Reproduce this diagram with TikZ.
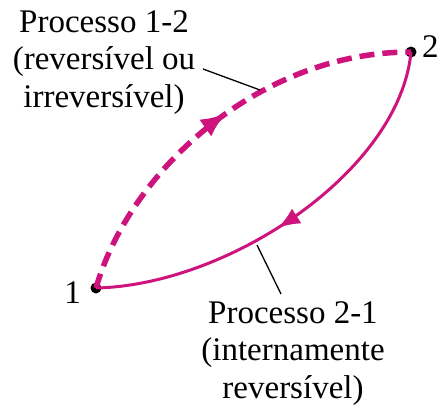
\documentclass[tikz,border=0pt]{standalone}
\usepackage{fontspec}
\setmainfont{Liberation Serif}
\usetikzlibrary{decorations.markings,arrows.meta}
\definecolor{proc}{RGB}{206,20,124}
\tikzset{
  lbl/.style={font=\fontsize{33}{37.5}\selectfont, align=center, inner sep=0pt},
  pt/.style={circle, fill=black, inner sep=0pt, minimum size=11pt},
  leader/.style={draw=black, line width=1.3pt},
  midarrow/.style 2 args={postaction={decorate, decoration={markings, mark=at position #1 with {\arrow[solid]{Latex[length=#2pt,width=0.8*#2pt]}}}}},
}
\begin{document}
\begin{tikzpicture}[x=1pt,y=-1pt]
\useasboundingbox (0,0) rectangle (439,410);
\node[pt] (p1) at (96,288) {};
\node[pt] (p2) at (411,52) {};
\node[lbl, anchor=base east] (l1) at (81,303) {1};
\node[lbl, anchor=base west] (l2) at (422,57) {2};
\node[lbl, anchor=base] (t12) at (104,107) {Processo 1-2\\(reversível ou\\irreversível)};
\node[lbl, anchor=base] (t21) at (293,398) {Processo 2-1\\(internamente\\reversível)};
% dashed process 1-2
\draw[proc, line width=5.5pt, dash pattern=on 15pt off 8pt, midarrow={0.53}{26}]
  (p1.center) .. controls (130,170) and (260,52) .. (p2.center);
% solid process 2-1
\draw[proc, line width=3pt, midarrow={0.54}{22}]
  (p2.center) .. controls (400,170) and (230,285) .. (p1.center);
\coordinate (c12) at (260,90);
\coordinate (c21) at (257,245);
\coordinate (s12) at (203,69);
\coordinate (s21) at (281,294);
\draw[leader] (s12) -- (c12);
\draw[leader] (c21) -- (s21);
\end{tikzpicture}
\end{document}
